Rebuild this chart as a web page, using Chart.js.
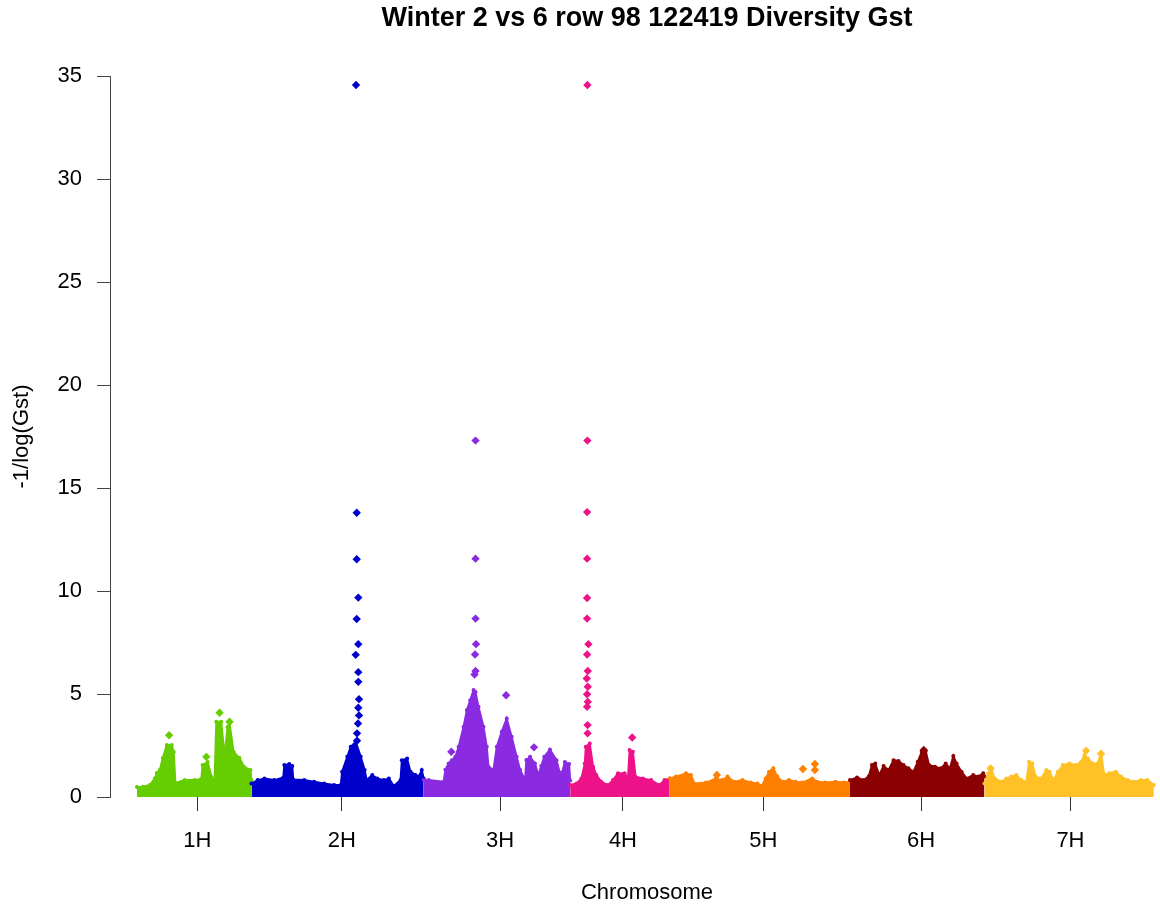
<!DOCTYPE html>
<html>
<head>
<meta charset="utf-8">
<title>Winter 2 vs 6 row Gst</title>
<script src="https://cdn.jsdelivr.net/npm/chart.js@4.4.1/dist/chart.umd.min.js"></script>
<style>
  html, body { margin: 0; padding: 0; background: #fff; overflow: hidden; }
  #wrap { width: 1160px; height: 909px; }
</style>
</head>
<body>
<div id="wrap"><canvas id="gstChart" width="1160" height="909"></canvas></div>
<script>
// chromosome names, colours and where each one starts / ends on the x axis
var chromosomes = ["1H", "2H", "3H", "4H", "5H", "6H", "7H"];
var chromColors = ["#66CD00", "#0000CD", "#8A2BE2", "#EE1289", "#FF7F00", "#8B0000", "#FFC125"];
var chromStart = [0, 115, 288, 435, 535, 716, 851];
var chromEnd = [115, 288, 435, 535, 716, 851, 1021];
var tickPos = [60.7, 205.7, 364.7, 488, 629, 787.3, 937.3];
var yTicks = [0, 5, 10, 15, 20, 25, 30, 35];

var chartTitle = "Winter 2 vs 6 row 98 122419 Diversity Gst";
var xTitle = "Chromosome";
var yTitle = "-1/log(Gst)";

// upper edge of the dense cloud of markers, [position within chromosome, -1/log(Gst)]
var env1H = [[0,0.48],[6,0.5],[13,0.58],[18,0.9],[20,1.16],[23,1.31],[26,1.89],[30,2.52],[35,2.52],[37,2.18],[38.7,0.68],[48,0.82],[58,0.82],[64.7,0.87],[66,1.55],[71,1.7],[75,0.97],[78,0.82],[79.7,3.65],[84.7,3.65],[88,2.0],[91,3.4],[93,3.59],[97,2.2],[103,1.89],[108,1.45],[114,1.31],[115,0.82]];
var env2H = [[0,0.66],[6.3,0.82],[13,0.9],[23,0.82],[32,0.95],[33,1.55],[38,1.6],[41,1.5],[42,0.85],[53,0.82],[63,0.74],[73,0.66],[83,0.58],[89.7,0.58],[91,1.23],[96.3,1.96],[99.7,2.44],[104.7,2.68],[109.7,1.96],[113.7,1.31],[115.7,0.82],[121.3,1.07],[126.3,0.9],[133,0.82],[138,0.9],[143,0.53],[149.7,0.82],[151,1.79],[156.3,1.87],[159.7,1.23],[164.7,1.07],[168,0.99],[171,1.31],[173,0.9]];
var env3H = [[0,0.82],[5,0.82],[20,0.74],[21.7,1.32],[25,1.63],[28.3,1.79],[31.7,1.95],[35,2.44],[40,3.41],[43.3,4.22],[46.7,4.7],[50,5.19],[52,5.1],[55,4.38],[60,3.41],[63.3,2.44],[65,1.47],[70,1.32],[73.3,2.44],[78.3,3.17],[83.3,3.81],[88.3,2.92],[93.3,1.95],[96.7,1.32],[101.7,0.82],[103,1.8],[106.7,1.95],[111.7,1.63],[115,1.07],[118,1.5],[121,1.95],[126.7,2.31],[133.3,1.79],[136.7,1.15],[139,1.2],[141.7,1.7],[146,1.6],[147,0.8]];
var env4H = [[0,0.58],[6.3,0.66],[11.3,0.9],[14.7,1.63],[15.7,2.44],[19.7,2.6],[23,1.47],[26.3,1.07],[31.3,0.74],[38,0.58],[43,0.82],[48,1.15],[54.7,1.15],[58,0.9],[59.7,2.28],[63,2.2],[65.7,0.98],[73,0.9],[81.3,0.82],[89.7,0.58],[94.7,0.82],[100,0.9]];
var env5H = [[0,0.9],[6.3,0.99],[16.3,1.15],[21.3,1.07],[24.7,0.66],[36.3,0.7],[46.3,0.9],[53,0.82],[58,0.99],[64.7,0.74],[73,0.82],[81.3,0.7],[88,0.66],[92.3,0.53],[96.3,0.9],[99.7,1.23],[104,1.39],[108,0.99],[113,0.74],[119.7,0.82],[126.3,0.74],[133,0.7],[143,0.9],[148,0.74],[156.3,0.7],[166.3,0.74],[174.7,0.7],[181,0.74]];
var env6H = [[0,0.82],[7,0.95],[13.7,0.82],[18.7,0.99],[22,1.55],[25.3,1.63],[29.3,1.07],[33.7,1.5],[38.7,1.31],[43.7,1.79],[48.7,1.75],[53.7,1.55],[58.7,1.39],[63.7,1.23],[68,1.71],[72,2.2],[76,2.23],[79.3,1.55],[85.3,1.47],[91.3,1.39],[96,1.63],[100.3,1.39],[103.7,1.99],[107,1.63],[112,1.23],[117,0.9],[123.7,1.07],[128.7,0.99],[133.7,1.15],[135,0.99]];
var env7H = [[0,0.66],[3.7,1.15],[7,1.31],[10.3,0.9],[17,0.74],[22,0.9],[27,0.99],[32,1.07],[37,0.82],[42,0.74],[44.7,1.71],[48,1.63],[51.3,0.99],[57,0.9],[62,1.31],[65.3,1.23],[69.3,0.82],[73.7,1.23],[78.7,1.55],[85.3,1.63],[92,1.55],[97,1.71],[100.3,2.04],[103.7,1.87],[108.7,1.63],[113.7,1.63],[117,2.12],[120.3,1.07],[125.3,1.15],[132,1.23],[137,0.99],[143.7,0.82],[150.3,0.74],[157,0.82],[163.7,0.82],[170,0.58]];

// single markers standing out above the cloud
var peaks1H = [[32.3,3.0],[69.7,1.95],[83,4.09],[93,3.65]];
var peaks2H = [[105,34.56],[105.7,13.8],[105.7,11.54],[107.3,9.68],[105.7,8.64],[107.3,7.42],[104.7,6.9],[107.3,6.06],[107.3,5.59],[108,4.75],[107.3,4.33],[108,3.96],[107,3.57],[106,3.09],[106,2.73]];
var peaks3H = [[52,17.3],[52,11.57],[52,8.66],[52.5,7.42],[51.5,6.92],[52,6.12],[51,5.95],[27.7,2.2],[82.7,4.94],[110.7,2.41]];
var peaks4H = [[17.3,34.56],[17.3,17.3],[17,13.83],[17,11.57],[17,9.66],[17,8.66],[18.3,7.42],[17,6.92],[17.7,6.12],[16.7,5.75],[17.7,5.35],[17,4.99],[17.7,4.62],[17,4.38],[17.5,3.49],[17.5,3.09],[62.3,2.89]];
var peaks5H = [[47.3,1.07],[133.7,1.36],[145.7,1.6],[145.7,1.31]];
var peaks6H = [[74,2.28]];
var peaks7H = [[6,1.39],[102,2.25],[117,2.1]];

var envelopes = [env1H, env2H, env3H, env4H, env5H, env6H, env7H];
var peaks = [peaks1H, peaks2H, peaks3H, peaks4H, peaks5H, peaks6H, peaks7H];

function toPoints(list, i) {
  return list.map(function (p) {
    return { x: chromStart[i] + p[0], y: p[1] };
  });
}

var datasets = [];
chromosomes.forEach(function (name, i) {
  // filled cloud
  datasets.push({
    label: name,
    data: toPoints(envelopes[i], i),
    showLine: true,
    fill: "origin",
    borderColor: chromColors[i],
    backgroundColor: chromColors[i],
    borderWidth: 2,
    pointRadius: 2,
    pointBorderWidth: 0,
    pointBackgroundColor: chromColors[i],
    tension: 0,
    clip: false,
    order: 20 - i,
  });
  // outliers
  datasets.push({
    label: name + " peaks",
    data: toPoints(peaks[i], i),
    showLine: false,
    pointStyle: "rectRot",
    pointRadius: 4.2,
    pointBorderWidth: 0,
    pointBackgroundColor: chromColors[i],
    backgroundColor: chromColors[i],
    clip: false,
    order: 10 - i,
  });
});

// main title and x label are centred on the R plot region, not on the canvas
var rLabels = {
  id: "rLabels",
  afterDraw: function (chart) {
    var ctx = chart.ctx;
    ctx.save();
    ctx.fillStyle = "#000";
    ctx.textAlign = "center";
    ctx.textBaseline = "middle";
    ctx.font = "bold 27px 'Liberation Sans', Arial, sans-serif";
    ctx.fillText(chartTitle, 647, 19);
    ctx.font = "22px 'Liberation Sans', Arial, sans-serif";
    ctx.fillText(xTitle, 647, 893);
    ctx.restore();
  },
};

Chart.defaults.font.family = "'Liberation Sans', Arial, sans-serif";
Chart.defaults.font.size = 22;
Chart.defaults.color = "#000";

var ctx = document.getElementById("gstChart").getContext("2d");
var gstChart = new Chart(ctx, {
  type: "scatter",
  data: { datasets: datasets },
  plugins: [rLabels],
  options: {
    responsive: false,
    devicePixelRatio: 1,
    animation: false,
    layout: { padding: { top: 76, right: 0, bottom: 0, left: 0 } },
    plugins: {
      legend: { display: false },
      tooltip: { enabled: false },
      title: { display: false },
    },
    scales: {
      x: {
        type: "linear",
        min: -27,
        max: 1023,
        afterFit: function (scale) {
          scale.height = 112;
        },
        afterBuildTicks: function (scale) {
          scale.ticks = tickPos.map(function (v) {
            return { value: v };
          });
        },
        ticks: {
          padding: 17,
          autoSkip: false,
          maxRotation: 0,
          callback: function (value) {
            return chromosomes[tickPos.indexOf(value)];
          },
        },
        grid: {
          drawOnChartArea: false,
          drawTicks: true,
          tickLength: 14,
          color: "#333",
        },
        border: { display: false },
      },
      y: {
        min: 0,
        max: 35,
        afterFit: function (scale) {
          scale.width = 110;
        },
        afterBuildTicks: function (scale) {
          scale.ticks = yTicks.map(function (v) {
            return { value: v };
          });
        },
        ticks: { padding: 15 },
        grid: {
          drawOnChartArea: false,
          drawTicks: true,
          tickLength: 13,
          color: "#444",
        },
        border: { display: true, color: "#444", width: 1 },
        title: {
          display: true,
          text: yTitle,
          padding: { top: 9, bottom: 0 },
        },
      },
    },
  },
});
</script>
</body>
</html>
